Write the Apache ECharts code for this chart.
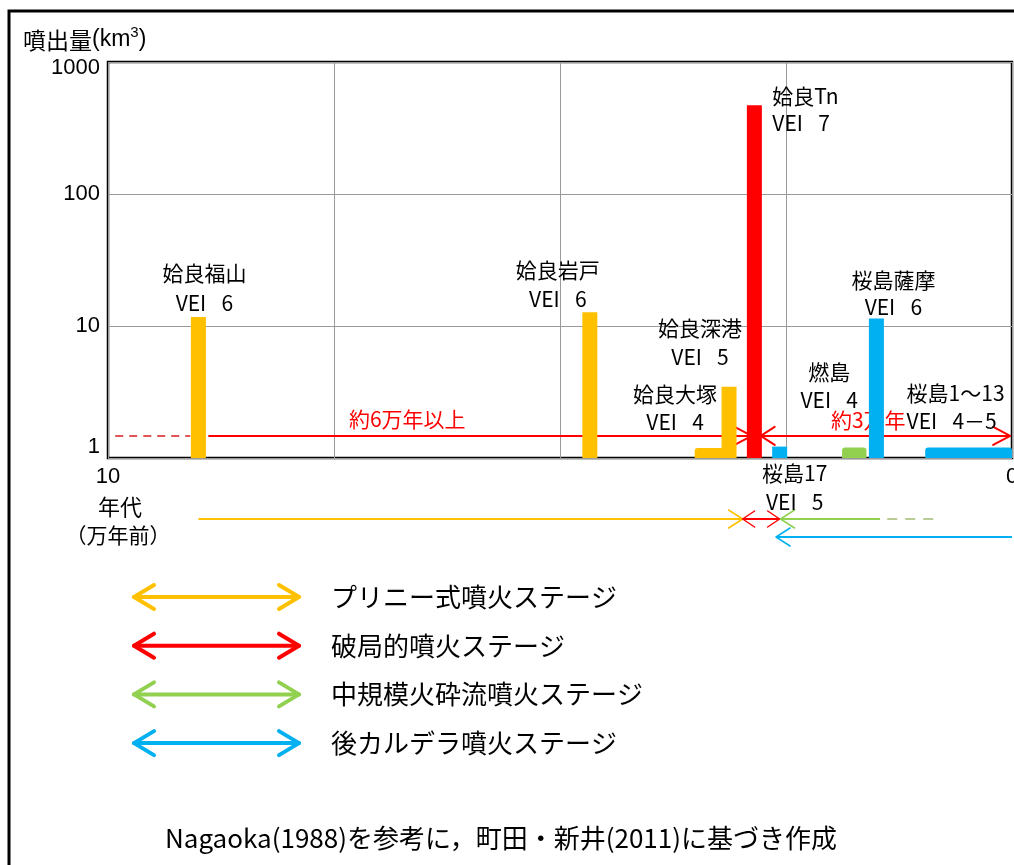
<!DOCTYPE html>
<html>
<head>
<meta charset="utf-8">
<script src="https://cdn.jsdelivr.net/npm/echarts@6/dist/echarts.min.js"></script>
<style>
  html, body { margin: 0; padding: 0; background: #fff; }
  #chart { width: 1014px; height: 865px; }
</style>
</head>
<body>
<div id="chart"></div>
<script>
// ---- data -------------------------------------------------------------
// Eruptions of the Aira caldera / Sakurajima (age in 10^4 years ago, volume in km3)
const eruptionNames  = ['姶良福山', '姶良岩戸', '姶良大塚', '姶良深港', '姶良Tn', '桜島17', '燃島', '桜島薩摩', '桜島1〜13'];
const eruptionVEI    = ['VEI\u2002 6', 'VEI\u2002 6', 'VEI\u2002 4', 'VEI\u2002 5', 'VEI\u2002 7', 'VEI\u2002 5', 'VEI\u2002 4', 'VEI\u2002 6', 'VEI\u2002 4－5'];
const eruptionAgeOld = [9.0, 4.67, 3.51, 3.13, 2.85, 2.57, 1.88, 1.50, 0.96];
const eruptionAgeNew = [9.0, 4.67, 3.17, 3.13, 2.85, 2.57, 1.61, 1.50, 0.0];
const eruptionVolume = [11.7, 12.7, 1.19, 3.47, 470, 1.22, 1.2, 11.4, 1.2];
const eruptionStage  = [0, 0, 0, 0, 1, 3, 2, 3, 3];

// Eruption stages and their time spans (10^4 years ago)
const stageNames     = ['プリニー式噴火ステージ', '破局的噴火ステージ', '中規模火砕流噴火ステージ', '後カルデラ噴火ステージ'];
const stageFrom      = [9.0, 2.98, 2.56, 2.61];
const stageTo        = [2.98, 2.57, 1.46, 0.0];
const stageUncertainFrom = [null, null, 1.38, null];
const stageUncertainTo   = [null, null, 0.80, null];

// Interval annotations drawn inside the plot
const intervalLevel  = 1.47;
const intervalFrom   = [9.92, 8.89, 2.78];
const intervalTo     = [9.09, 2.88, 0.02];
const intervalLabels = ['約6万年以上', '約3万年'];
const intervalLabelAge = [6.69, 1.59];
const intervalLabelVolume = [1.97, 1.94];

// Axis ticks
const ageTicks    = [10, 0];
const volumeTicks = [1, 10, 100, 1000];

// ---- styling ----------------------------------------------------------
const CJK = '"Noto Sans CJK JP", "Noto Sans", sans-serif';
const LATIN = '"Liberation Sans", Arial, sans-serif';
const stageColors = ['#FFC000', '#FF0000', '#92D050', '#00B0F0'];
const BAR_W = 15;
// label placement relative to bar top centre: [dx, line1 dy, line2 dy, align]
const labelPlace = [
  [6, -44, -14, 'center'],
  [-32, -42, -13, 'center'],
  [-35, -54, -26, 'center'],
  [-29, -59, -30, 'center'],
  [18, -9, 18, 'left'],
  [15, 26, 55, 'center'],
  [-25, -76, -48, 'center'],
  [17, -38, -11, 'center'],
  [-62, -55, -27, 'left']
];

const chart = echarts.init(document.getElementById('chart'), null, { renderer: 'canvas' });

function chevron(x, y, dir, dx, dy, color, width) {
  return {
    type: 'polyline',
    shape: { points: [[x - dir * dx, y - dy], [x, y], [x - dir * dx, y + dy]] },
    style: { stroke: color, lineWidth: width, fill: null, lineCap: 'round', lineJoin: 'round' }
  };
}

function renderEruption(params, api) {
  const i = params.dataIndex;
  const pOld = api.coord([api.value(0), api.value(2)]);
  const pNew = api.coord([api.value(1), api.value(2)]);
  const base = api.coord([api.value(0), 1])[1];
  let x0 = Math.min(pOld[0], pNew[0]);
  let x1 = Math.max(pOld[0], pNew[0]);
  if (x1 - x0 < BAR_W) {
    const c = (x0 + x1) / 2;
    x0 = c - BAR_W / 2;
    x1 = c + BAR_W / 2;
  }
  const top = pOld[1];
  const cx = (x0 + x1) / 2;
  const lp = labelPlace[i];
  const wide = (x1 - x0) > BAR_W + 1;
  const textStyle = (text, dy) => ({
    type: 'text',
    style: {
      text: text, x: cx + lp[0], y: top + dy,
      fill: '#000', fontSize: 21, fontFamily: CJK,
      align: lp[3], verticalAlign: 'middle'
    }
  });
  return {
    type: 'group',
    children: [
      {
        type: 'rect',
        shape: { x: x0, y: top, width: x1 - x0, height: base - top, r: wide ? [3, 3, 0, 0] : 0 },
        style: { fill: stageColors[eruptionStage[i]] }
      },
      textStyle(eruptionNames[i], lp[1]),
      textStyle(eruptionVEI[i], lp[2])
    ]
  };
}

function renderInterval(params, api) {
  const i = params.dataIndex;
  const a = api.coord([api.value(0), api.value(2)]);
  const b = api.coord([api.value(1), api.value(2)]);
  const red = '#FF0000';
  if (i === 0) {
    return {
      type: 'line',
      shape: { x1: a[0], y1: a[1], x2: b[0], y2: b[1] },
      style: { stroke: '#E25555', lineWidth: 2, lineDash: [8, 6] }
    };
  }
  const children = [{
    type: 'line',
    shape: { x1: a[0], y1: a[1], x2: b[0], y2: b[1] },
    style: { stroke: red, lineWidth: 2 }
  }];
  children.push(chevron(b[0], b[1], 1, 17, 9, red, 2));
  if (i === 2) children.push(chevron(a[0], a[1], -1, 14, 9, red, 2));
  return { type: 'group', children };
}

function renderIntervalLabel(params, api) {
  const p = api.coord([api.value(0), api.value(1)]);
  return {
    type: 'text',
    style: {
      text: intervalLabels[params.dataIndex], x: p[0], y: p[1],
      fill: '#FF0000', fontSize: 21, fontFamily: CJK,
      align: 'center', verticalAlign: 'middle'
    }
  };
}

function renderStage(params, api) {
  const i = params.dataIndex;
  const base = api.coord([0, 1])[1];
  const y = base + (i === 3 ? 79 : 61);
  const a = api.coord([api.value(0), 1])[0];
  const b = api.coord([api.value(1), 1])[0];
  const color = stageColors[i];
  const children = [{
    type: 'line',
    shape: { x1: a, y1: y, x2: b, y2: y },
    style: { stroke: color, lineWidth: 2 }
  }];
  if (i === 0) children.push(chevron(b, y, 1, 14, 9, color, 1.5));
  if (i === 1) {
    children.push(chevron(a, y, -1, 12, 8, color, 1.5));
    children.push(chevron(b, y, 1, 12, 8, color, 1.5));
  }
  if (i === 2 || i === 3) children.push(chevron(a, y, -1, 14, 9, color, 1.5));
  if (stageUncertainFrom[i] != null) {
    const c = api.coord([stageUncertainFrom[i], 1])[0];
    const d = api.coord([stageUncertainTo[i], 1])[0];
    children.push({
      type: 'line',
      shape: { x1: c, y1: y, x2: d, y2: y },
      style: { stroke: '#B9CC96', lineWidth: 2, lineDash: [10, 8] }
    });
  }
  return { type: 'group', children };
}

// legend rows (double-headed arrows with stage names)
const legendGraphics = [];
stageNames.forEach((name, i) => {
  const y = 597 + i * 48.7;
  const color = stageColors[i];
  legendGraphics.push({
    type: 'group',
    children: [
      { type: 'line', shape: { x1: 134, y1: y, x2: 299, y2: y }, style: { stroke: color, lineWidth: 4, lineCap: 'round' } },
      chevron(134, y, -1, 20, 12, color, 4),
      chevron(299, y, 1, 20, 12, color, 4),
      { type: 'text', style: { text: name, x: 331, y: y, fill: '#000', fontSize: 26, fontFamily: CJK, verticalAlign: 'middle' } }
    ]
  });
});

const option = {
  backgroundColor: '#fff',
  animation: false,
  grid: {
    left: 108, right: 2, top: 62, bottom: 407,
    outerBoundsMode: 'none', containLabel: false,
    show: true, borderColor: '#000', borderWidth: 2.5, backgroundColor: 'transparent'
  },
  xAxis: {
    type: 'value', min: 0, max: 10, interval: 2.5, inverse: true,
    axisLine: { show: false }, axisTick: { show: false },
    splitLine: { show: true, lineStyle: { color: '#9a9a9a', width: 1 } },
    axisLabel: {
      show: true, margin: 8, color: '#000', fontSize: 22, fontFamily: LATIN,
      formatter: v => (ageTicks.indexOf(v) >= 0 ? String(v) : '')
    }
  },
  yAxis: {
    type: 'log', logBase: 10, min: volumeTicks[0], max: volumeTicks[volumeTicks.length - 1],
    axisLine: { show: false }, axisTick: { show: false },
    splitLine: { show: true, lineStyle: { color: '#9a9a9a', width: 1 } },
    axisLabel: {
      show: true, margin: 8, color: '#000', fontSize: 22, fontFamily: LATIN,
      formatter: v => {
        if (v === volumeTicks[0]) return '{lo|' + v + '}';
        if (v === volumeTicks[volumeTicks.length - 1]) return '{hi|' + v + '}';
        return String(v);
      },
      rich: {
        lo: { fontSize: 22, fontFamily: LATIN, color: '#000', padding: [0, 0, 22, 0] },
        hi: { fontSize: 22, fontFamily: LATIN, color: '#000', padding: [12, 0, 0, 0] }
      }
    }
  },
  series: [
    {
      type: 'custom', name: 'intervals', z: 3,
      renderItem: renderInterval,
      encode: { x: [0, 1], y: 2 },
      data: intervalFrom.map((f, i) => [f, intervalTo[i], intervalLevel])
    },
    {
      type: 'custom', name: 'intervalLabels', z: 4,
      renderItem: renderIntervalLabel,
      encode: { x: 0, y: 1 },
      data: intervalLabelAge.map((a, i) => [a, intervalLabelVolume[i]])
    },
    {
      type: 'custom', name: 'eruptions', z: 5,
      renderItem: renderEruption,
      encode: { x: [0, 1], y: 2 },
      data: eruptionNames.map((n, i) => [eruptionAgeOld[i], eruptionAgeNew[i], eruptionVolume[i]])
    },
    {
      type: 'custom', name: 'stages', z: 2,
      renderItem: renderStage,
      encode: { x: [0, 1] },
      data: stageFrom.map((f, i) => [f, stageTo[i]])
    }
  ],
  graphic: [
    { type: 'rect', z: 0, shape: { x: 9, y: 11, width: 1030, height: 880 }, style: { fill: null, stroke: '#000', lineWidth: 3 } },
    {
      type: 'text', x: 23, y: 40,
      style: {
        text: '{c|噴出量}{l|(km}{s|3}{l|)}', verticalAlign: 'middle',
        rich: {
          c: { fontSize: 23, fontFamily: CJK, fill: '#000', color: '#000' },
          l: { fontSize: 23, fontFamily: LATIN, fill: '#000', color: '#000' },
          s: { fontSize: 15, fontFamily: LATIN, fill: '#000', color: '#000', verticalAlign: 'top', padding: [0, 0, 14, 0] }
        }
      }
    },
    { type: 'text', style: { text: '年代', x: 120, y: 507, fill: '#000', fontSize: 22, fontFamily: CJK, align: 'center', verticalAlign: 'middle' } },
    { type: 'text', style: { text: '（万年前）', x: 118, y: 535, fill: '#000', fontSize: 21, fontFamily: CJK, align: 'center', verticalAlign: 'middle' } },
    ...legendGraphics,
    { type: 'text', style: { text: 'Nagaoka(1988)を参考に，町田・新井(2011)に基づき作成', x: 501, y: 838, fill: '#000', fontSize: 26, fontFamily: CJK, align: 'center', verticalAlign: 'middle' } }
  ]
};

chart.setOption(option);
</script>
</body>
</html>
